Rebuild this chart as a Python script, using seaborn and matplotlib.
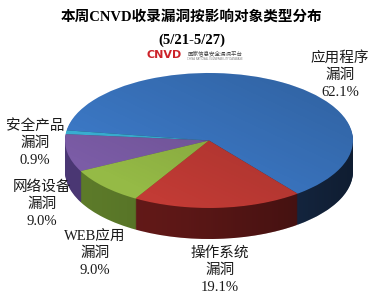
import numpy as np
import matplotlib
matplotlib.use("Agg")
import matplotlib.pyplot as plt
import matplotlib.transforms as mtransforms
from matplotlib.patches import Ellipse, Polygon
import seaborn as sns

sns.set_theme(style="white")
plt.rcParams['font.family'] = ['Liberation Serif', 'Noto Sans CJK SC']

# ---- data ----
categories = ["应用程序\n漏洞", "安全产品\n漏洞", "网络设备\n漏洞", "WEB应用\n漏洞", "操作系统\n漏洞"]
values = [62.1, 0.9, 9.0, 9.0, 19.1]
pct_labels = ["62.1%", "0.9%", "9.0%", "9.0%", "19.1%"]
top_colors = ["#3d7bca", "#3ab2d6", "#7b5ca6", "#95ba46", "#c23b35"]
side_colors = ["#1f3a62", "#1f6f88", "#4e3a7a", "#62822c", "#6e1c1b"]

W, H = 376, 301
fig = plt.figure(figsize=(W / 100, H / 100), dpi=100)
ax = fig.add_axes([0, 0, 1, 1])

cx, cy = 209, H - 140.5
rx, ry = 144, 67.5
depth = 31
start = -52

def pie_layer(off, colors):
    wedges, _ = ax.pie(values, colors=colors, startangle=start, counterclock=True,
                       radius=1, center=(0, 0),
                       wedgeprops=dict(linewidth=0, antialiased=True))
    tr = mtransforms.Affine2D().scale(rx, ry).translate(cx, cy - off) + ax.transData
    for w in wedges:
        w.set_transform(tr)
        w.set_zorder(1)
    return wedges

for d in range(depth, 0, -1):
    pie_layer(d, side_colors)
top = pie_layer(0, top_colors)

# shading of the side wall (darker toward the right)
t = np.linspace(np.pi, 2 * np.pi, 200)
upper = np.column_stack([cx + rx * np.cos(t), cy + ry * np.sin(t)])
lower = upper[::-1] - np.array([0, depth])
side_poly = Polygon(np.vstack([upper, lower]), closed=True, facecolor="none",
                    edgecolor="none", transform=ax.transData)
ax.add_patch(side_poly)
gx = np.linspace(0, 1, 256)
side_alpha = np.clip(0.05 + 0.45 * gx ** 1.5, 0, 1)
side_img = np.zeros((1, 256, 4))
side_img[..., 3] = side_alpha
im = ax.imshow(side_img, extent=(cx - rx, cx + rx, cy - ry - depth - 2, cy + 2),
               aspect="auto", zorder=2, interpolation="bilinear")
im.set_clip_path(side_poly)

# subtle shading on the top face (darker toward bottom right)
top_ell = Ellipse((cx, cy), 2 * rx, 2 * ry, facecolor="none", edgecolor="none",
                  transform=ax.transData)
ax.add_patch(top_ell)
yy, xx = np.mgrid[0:1:100j, 0:1:100j]
top_img = np.zeros((100, 100, 4))
top_img[..., 3] = np.clip(0.22 * (0.6 * xx + 0.6 * (1 - yy)) - 0.05, 0, 0.25)
im2 = ax.imshow(top_img, extent=(cx - rx, cx + rx, cy - ry, cy + ry), origin="upper",
                aspect="auto", zorder=2, interpolation="bilinear")
im2.set_clip_path(top_ell)

ax.set_xlim(0, W)
ax.set_ylim(0, H)
ax.set_aspect("auto")
ax.axis("off")

# title
ax.text(192, H - 17, "本周CNVD收录漏洞按影响对象类型分布", ha="center", va="center",
        fontsize=10.5, fontweight="bold", color="black")
ax.text(192, H - 40, "(5/21-5/27)", ha="center", va="center",
        fontsize=10.5, fontweight="bold", color="black")
# logo
ax.text(164, H - 55, "CNVD", ha="center", va="center", fontsize=8,
        fontweight="bold", color="#cc2229", family=["DejaVu Sans"])
ax.text(215, H - 53.5, "国家信息安全漏洞平台", ha="center", va="center", fontsize=4,
        color="#444444", family=["Noto Sans CJK SC"])
ax.text(215, H - 58.5, "CHINA NATIONAL VULNERABILITY DATABASE", ha="center", va="center",
        fontsize=1.8, color="#777777", family=["DejaVu Sans"])

# label anchor = centre of the middle line ("漏洞")
label_pos = [(340, 75), (35, 143), (42, 204), (95, 253), (220, 270)]
for cat, pct, (x, y) in zip(categories, pct_labels, label_pos):
    ax.text(x, H - y, cat + "\n" + pct, ha="center", va="center",
            fontsize=10.5, linespacing=1.4, color="#1a1a1a", zorder=5)

fig.savefig("out.png", dpi=100)
